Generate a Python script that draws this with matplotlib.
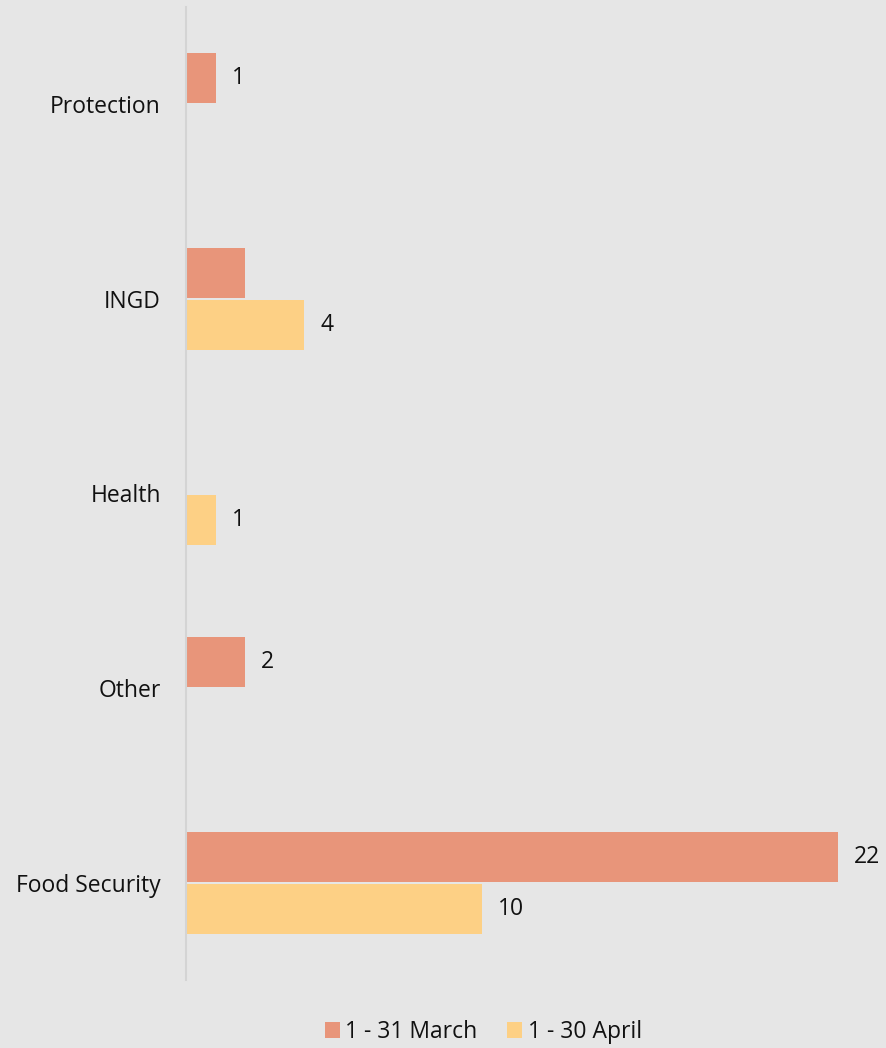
import matplotlib
matplotlib.use("Agg")
import matplotlib.pyplot as plt
import numpy as np

# ============================
# Data
# ============================
categories = ["Protection", "INGD", "Health", "Other", "Food Security"]
march = [1, 2, 0, 2, 22]
april = [0, 4, 1, 0, 10]
# value labels drawn next to bars (None = no label)
march_labels = ["1", None, None, "2", "22"]
april_labels = [None, "4", "1", None, "10"]
series_names = ["1 - 31 March", "1 - 30 April"]

MARCH_COLOR = "#E8957A"
APRIL_COLOR = "#FDD085"
BG = "#E6E6E6"
TXT = "#111111"
FS = 16.5

plt.rcParams["font.family"] = ["Open Sans", "DejaVu Sans"]

fig = plt.figure(figsize=(8.87, 10.48), dpi=100, facecolor=BG)
ax = fig.add_axes([186 / 887, 68 / 1048, 696 / 887, 973 / 1048], facecolor=BG)

y = np.arange(len(categories))
h = 0.257
off = 0.134

ax.barh(y - off, march, height=h, color=MARCH_COLOR, label=series_names[0])
ax.barh(y + off, april, height=h, color=APRIL_COLOR, label=series_names[1])

for i, lab in enumerate(march_labels):
    if lab is not None:
        ax.annotate(lab, (march[i], y[i] - off), xytext=(16, 0),
                    textcoords="offset pixels", va="center", ha="left",
                    fontsize=FS, color=TXT)
for i, lab in enumerate(april_labels):
    if lab is not None:
        ax.annotate(lab, (april[i], y[i] + off), xytext=(16, 0),
                    textcoords="offset pixels", va="center", ha="left",
                    fontsize=FS, color=TXT)

ax.set_xlim(0, 23.5)
ax.set_ylim(4.5, -0.5)
ax.set_yticks(y)
ax.set_yticklabels(categories, fontsize=FS, color=TXT)
ax.tick_params(axis="y", length=0, pad=18)
ax.set_xticks([])

for s in ["top", "right", "bottom"]:
    ax.spines[s].set_visible(False)
ax.spines["left"].set_color("#D4D4D4")
ax.spines["left"].set_linewidth(1.5)

leg = fig.legend(loc="center", bbox_to_anchor=(0.545, 1 - 1032 / 1048), ncol=2,
                 frameon=False, fontsize=FS, handlelength=0.65, handleheight=0.65,
                 handletextpad=0.25, columnspacing=1.3)
for t in leg.get_texts():
    t.set_color(TXT)

fig.savefig("out.png", dpi=100, facecolor=BG)
